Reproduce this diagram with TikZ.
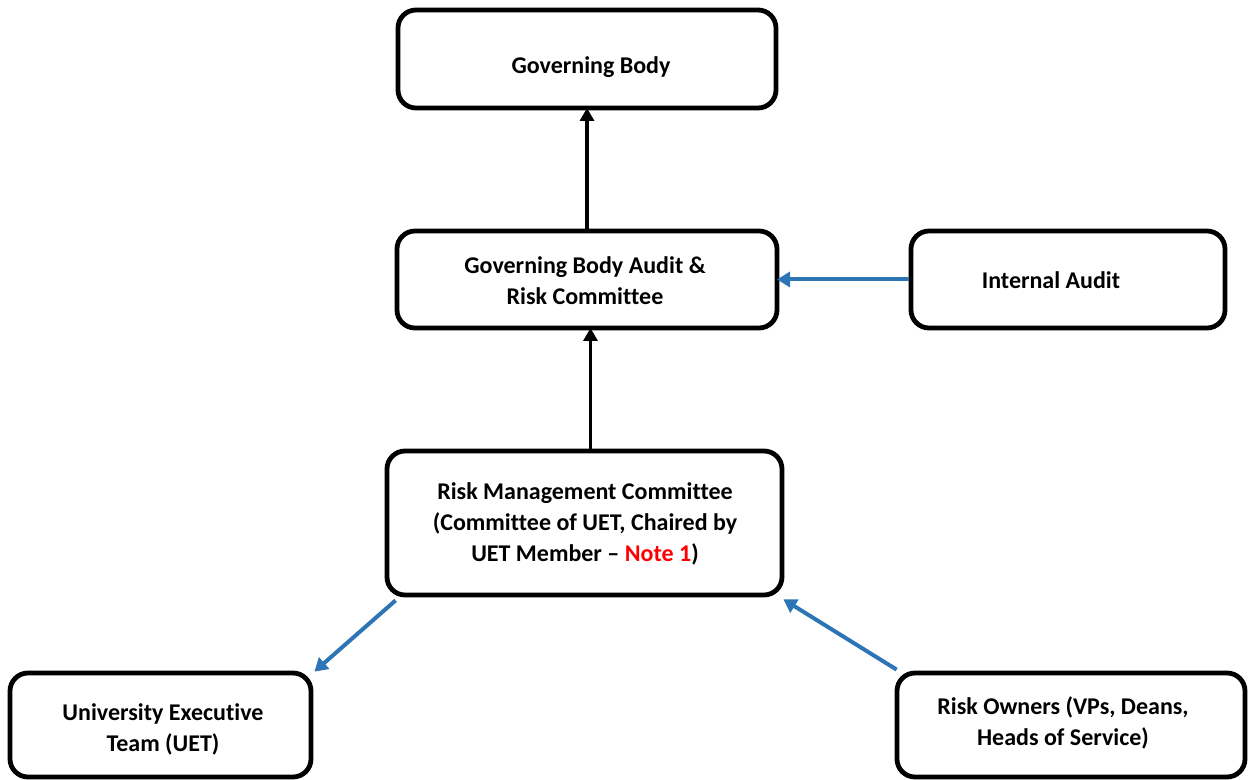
\documentclass[tikz,border=0pt]{standalone}
\usepackage{fontspec}
\setmainfont[Ligatures=NoCommon]{Carlito}
\usetikzlibrary{arrows.meta,calc}
\definecolor{arrowblue}{RGB}{46,117,182}
\begin{document}
\begin{tikzpicture}[x=0.5pt,y=-0.5pt,
  box/.style={draw=black,line width=2.4pt,rounded corners=9pt,fill=white,inner sep=0pt},
  txt/.style={font=\fontsize{12pt}{15.5pt}\selectfont\bfseries,align=center,inner sep=0pt},
  blk/.style={draw=black,line width=1.7pt,-{Triangle[length=6.5pt,width=7pt]}},
  blu/.style={draw=arrowblue,line width=2pt,-{Triangle[length=6.5pt,width=7.5pt]}}]
\useasboundingbox (0,0) rectangle (1248,780);
% boxes (pixel coordinates of stroke centre lines)
\node[box,minimum width=189pt,minimum height=49pt] (gb) at (587,59) {};
\node[box,minimum width=190pt,minimum height=48.5pt] (gbarc) at (587,279.5) {};
\node[box,minimum width=157pt,minimum height=48.5pt] (ia) at (1068,279.5) {};
\node[box,minimum width=197.5pt,minimum height=72pt] (rmc) at (584.5,523) {};
\node[box,minimum width=150.5pt,minimum height=52pt] (uet) at (160.5,725) {};
\node[box,minimum width=174pt,minimum height=52pt] (ro) at (1071,725) {};
% texts
\node[txt] (gbt) at (591,67) {Governing Body};
\node[txt] (gbarct) at (585,281) {Governing Body Audit \&\\Risk Committee};
\node[txt] (iat) at (1051,280) {Internal Audit};
\node[txt] (rmct) at (585,524) {Risk Management Committee\\(Committee of UET, Chaired by\\UET Member -- \textcolor{red}{Note 1})};
\node[txt] (uett) at (163,729) {University Executive\\Team (UET)};
\node[txt] (rot) at (1063,723) {Risk Owners (VPs, Deans,\\Heads of Service)};
% connectors
\draw[blk,shorten >=-1.2pt] (gbarc.north) -- (gb.south);
\draw[blk,shorten >=-1.2pt] ([xshift=3pt]rmc.north) -- ([xshift=3pt]rmc.north |- gbarc.south);
\draw[blu,shorten >=-1.2pt] (ia.west) -- (ia.west -| gbarc.east);
\draw[blu] ([shift={(11,3)}]rmc.south west) -- ([shift={(1,1)}]uet.north east);
\draw[blu] ([shift={(2,-1)}]ro.north west) -- ([shift={(-1,2)}]rmc.south east);
\end{tikzpicture}
\end{document}
